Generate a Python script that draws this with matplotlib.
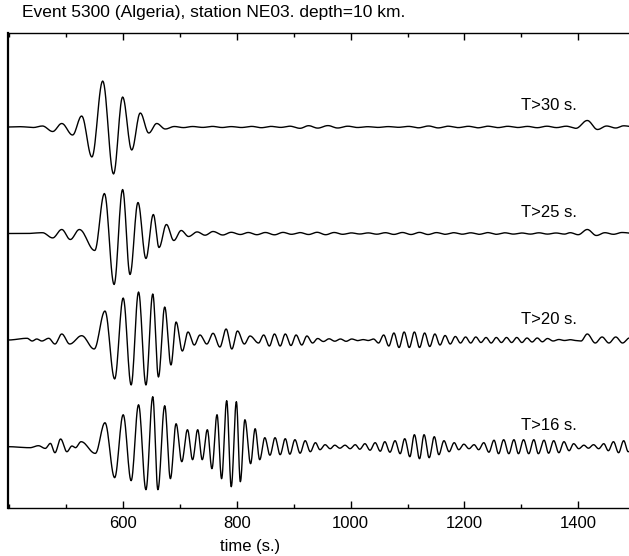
import numpy as np
import matplotlib
matplotlib.use("Agg")
import matplotlib.pyplot as plt
from matplotlib.ticker import MultipleLocator

plt.rcParams['font.family'] = ['Liberation Sans', 'DejaVu Sans']

# ---- extrema (time in s, amplitude in trace units) for each filtered trace ----
t30_times = [398, 419, 442, 458, 476, 492, 511, 527, 545, 564, 583, 599, 615, 630, 645, 659, 674, 690,
             706, 722, 740, 757, 774, 790, 808, 826, 843, 860, 877, 893, 911, 926, 942, 960, 977, 995,
             1012, 1030, 1048, 1066, 1084, 1102, 1119, 1137, 1154, 1171, 1189, 1207, 1224, 1241, 1259,
             1276, 1294, 1311, 1328, 1345, 1362, 1379, 1396, 1416, 1434, 1450, 1466, 1480, 1500]
t30_amps = [0, 0.3, -0.5, 1.0, -4.5, 3.5, -8, 11, -30, 46, -47, 30, -23, 14, -6, 3.5, -2, 0.5,
            -0.6, 0.5, -0.4, 0.6, -0.5, 0.4, -0.5, 0.6, -0.7, 0.6, -0.4, 0.8, -1.3, 1.3, -1.1, 1.4, -1.0, 0.8,
            -0.5, 0.3, -0.4, 0.4, -0.3, 0.6, -0.8, 1.0, -0.9, 0.8, -0.6, 0.7, -0.8, 0.8, -0.6,
            0.7, -0.5, 0.6, -0.7, 0.8, -0.6, 0.8, -1.3, 6.5, -2.5, 1.0, -1.0, 1.2, 0]

t25_times = [398, 430, 458, 476, 492, 507, 523, 550, 567, 584, 599, 612, 626, 640, 653, 663, 676, 689,
             702, 715, 730, 744, 758, 775, 790, 806, 820, 835, 850, 866, 881, 896, 911, 926, 941, 956,
             971, 986, 1001, 1016, 1031, 1046, 1061, 1076, 1091, 1106, 1121, 1136, 1151, 1166, 1181,
             1196, 1211, 1226, 1241, 1256, 1271, 1286, 1301, 1316, 1331, 1346, 1361, 1376, 1386, 1400,
             1416, 1432, 1447, 1462, 1477, 1500]
t25_amps = [0, 0, 0.8, -4.4, 4, -6, 4, -17, 40, -51, 44, -41, 31, -25, 19, -14, 9, -7,
            3, -3, 1.6, -1.7, 2, -1.5, 1.2, -1.0, 1.0, -1.2, 1.0, -1.3, 1.1, -0.8, 0.9, -1.0, 1.2, -1.2,
            1.0, -0.8, 0.6, -0.5, 0.6, -0.7, 0.8, -0.9, 1.0, -1.0, 1.1, -1.0, 0.9, -0.8, 0.8,
            -0.7, 0.7, -0.8, 0.9, -0.8, 0.7, -0.6, 0.5, -0.6, 0.7, -0.6, 0.5, -0.6, 0.8, -1.2,
            4.0, -2.0, 0.8, -0.8, 1.0, 0]

t20_times = [398, 431, 440, 448, 457, 469, 480, 492, 506, 527, 549, 568, 585, 600, 614, 627, 640, 652,
             662, 673, 684, 693, 704, 714, 725, 735, 747, 758, 770, 781, 791, 801, 813, 823, 838,
             847, 857, 866, 876, 885, 895, 904, 914, 923, 933, 942, 952, 962, 972, 982, 992, 1002,
             1012, 1022, 1031, 1040, 1049, 1058, 1067, 1076, 1085, 1094, 1103, 1112, 1121, 1130, 1139,
             1148, 1157, 1166, 1175, 1184, 1193, 1202, 1211, 1220, 1229, 1238, 1247, 1256, 1265, 1274,
             1283, 1292, 1301, 1310, 1319, 1328, 1337, 1346, 1356, 1366, 1376, 1386, 1396, 1405, 1416,
             1430, 1442, 1454, 1466, 1478, 1490, 1500]
t20_amps = [0, 1.7, -1, 1, -1, 1.7, -4, 6, -4, 4.3, -9, 29, -39, 42, -45, 48, -45, 46,
            -37, 33, -25, 18, -11, 8, -5, 5, -4, 6.7, -7, 11, -9, 9, -4, 4, -3,
            5, -6, 6, -6, 6, -5.5, 5, -5, 4, -3, 1.5, -1.5, 1.2, -1.2, 1.0, -1.3, 1.0,
            -0.6, 0.4, -0.5, 1.0, -3, 5, -6, 7, -7.5, 8, -7.5, 8, -7.5, 7, -6.5,
            6, -5, 4.5, -4, 3.5, -3, 3, -3, 3, -2.5, 2.5, -3, 2.5, -2.5, 2.5,
            -2.5, 2.5, -2.5, 2, -2, 2, -1.8, 1.5, -1, 0.5, -0.5, 0.3, -0.5, -1, 6,
            -3, 3, -3, 3, -3, 2, 0]

t16_times = [398, 436, 451, 463, 472, 480, 490, 501, 510, 516, 526, 551, 568, 585, 600, 614, 627, 640,
             652, 661, 673, 683, 693, 703, 713, 722, 731, 739, 748, 756, 765, 773, 782, 790, 799,
             806, 814, 824, 832, 840, 849, 858, 867, 876, 885, 893, 902, 911, 920, 929, 938, 946,
             955, 964, 972, 981, 990, 999, 1008, 1016, 1025, 1034, 1043, 1052, 1060, 1069, 1078, 1087,
             1095, 1104, 1112, 1121, 1129, 1138, 1147, 1155, 1164, 1173, 1182, 1190, 1199, 1208, 1217,
             1225, 1234, 1243, 1252, 1260, 1269, 1278, 1287, 1295, 1304, 1313, 1322, 1330, 1340, 1348,
             1357, 1366, 1375, 1384, 1392, 1401, 1410, 1418, 1427, 1436, 1445, 1453, 1462, 1471, 1480,
             1488, 1500]
t16_amps = [0, -1, 1, -1.7, 3.3, -6, 7.7, -5, 0.7, -1, 5, -6.7, 24, -31, 32, -34, 42, -43,
            50, -43, 41, -32, 23, -15, 17, -13, 17, -13, 17, -22, 32, -32, 46, -40, 45,
            -35, 27, -17, 18, -13, 9, -8.5, 9, -8, 8, -7.5, 7, -6.5, 6, -5, 4, -3,
            2, -2, 1.5, -1.5, 1.5, -2, 2, -2.5, 3, -3.5, 4, -4.5, 5, -5.5, 6, -7,
            8, -10, 12, -12, 12, -11, 10, -8, 6, -5, 4, -3, 2.5, -2, 2,
            -3, 4, -5.5, 6.5, -7, 7, -7, 7, -7, 7, -7, 7, -7, 6.5, -6.5,
            6, -6, 5, -4, 3, -2, 1.5, -1.5, 2, -2, 3, -4, 5, -6, 6,
            -5, 0]

trace_labels = ["T>30 s.", "T>25 s.", "T>20 s.", "T>16 s."]
trace_offsets = [381, 274.5, 168, 61.3]
title_text = "Event 5300 (Algeria), station NE03. depth=10 km."
x_label = "time (s.)"
x_major = [600, 800, 1000, 1200, 1400]


def smooth_path(times, amps, n=14):
    """Join successive extrema with half-cosine arcs."""
    times = np.asarray(times, float)
    amps = np.asarray(amps, float)
    xs, ys = [times[0]], [amps[0]]
    s = np.linspace(0, 1, n + 1)[1:]
    w = (1 - np.cos(np.pi * s)) / 2
    for i in range(len(times) - 1):
        xs.extend(times[i] + (times[i + 1] - times[i]) * s)
        ys.extend(amps[i] + (amps[i + 1] - amps[i]) * w)
    return np.array(xs), np.array(ys)


W, H = 629, 556
fig = plt.figure(figsize=(W / 100, H / 100), dpi=100)
x0, x1 = 398.0, 1500.0
px_per_s = 0.56875
left_px, top_px, bottom_px = 8.3, 33, 508
width_px = (x1 - x0) * px_per_s
ax = fig.add_axes([left_px / W, (H - bottom_px) / H, width_px / W, (bottom_px - top_px) / H])

series = [(t30_times, t30_amps), (t25_times, t25_amps), (t20_times, t20_amps), (t16_times, t16_amps)]
for (tt, aa), off, lab in zip(series, trace_offsets, trace_labels):
    xs, ys = smooth_path(tt, aa)
    ax.plot(xs, ys + off, color='black', lw=1.0, solid_joinstyle='round')
    ax.text(1300, off + 21, lab, ha='left', va='center', fontsize=12)

ax.set_xlim(x0, x1)
ax.set_ylim(0, bottom_px - top_px)
ax.set_xticks(x_major)
ax.xaxis.set_minor_locator(MultipleLocator(100))
ax.set_yticks([])
ax.tick_params(axis='x', which='both', direction='in', top=True, bottom=True,
               labelsize=12, width=1.0, pad=6)
ax.tick_params(axis='x', which='major', length=5.2)
ax.tick_params(axis='x', which='minor', length=2.8)
for side in ['top', 'bottom', 'right']:
    ax.spines[side].set_linewidth(1.0)
ax.spines['left'].set_linewidth(1.6)

ax.set_xlabel(x_label, fontsize=12)
ax.xaxis.label.set_va('center')
ax.xaxis.set_label_coords((250 - left_px) / width_px, -(546 - bottom_px) / (bottom_px - top_px))

fig.text(22 / W, 1 - 12 / H, title_text, ha='left', va='center', fontsize=12.5)

fig.savefig("out.png", dpi=100)
